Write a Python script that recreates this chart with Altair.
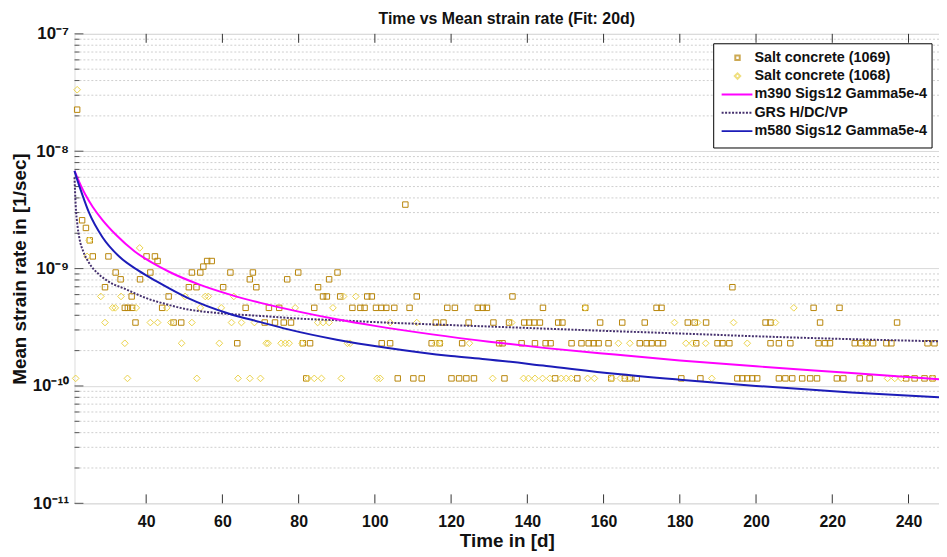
import altair as alt
import pandas as pd

# ---------------- data ----------------
TITLE = "Time vs Mean strain rate (Fit: 20d)"
X_TITLE = "Time in [d]"
Y_TITLE = "Mean strain rate in [1/sec]"
SERIES = ["Salt concrete (1069)", "Salt concrete (1068)",
          "m390 Sigs12 Gamma5e-4", "GRS H/DC/VP", "m580 Sigs12 Gamma5e-4"]

X_TICKS = [40, 60, 80, 100, 120, 140, 160, 180, 200, 220, 240]
Y_MAJOR = [1e-11, 1e-10, 1e-9, 1e-8, 1e-7]
Y_MINOR = [m * d for d in [1e-11, 1e-10, 1e-9, 1e-8] for m in range(2, 10)]

# measured rates sit on discrete levels (rate -> list of days)
SQ_1069 = {
    1.16e-10: [82, 106, 110.1, 112.3, 120.1, 122.1, 124, 126, 134, 147.3, 153.1, 162, 165.6,
               166.9, 168.7, 180.4, 185.4, 195.1, 196.4, 197.7, 199, 200.3, 206, 207.7, 209.5,
               212.1, 214.2, 216, 221.2, 222.9, 227.2, 229.8, 239.4, 241.6, 244.2, 246.3],
    2.31e-10: [63.9, 81.1, 83, 101.8, 104, 114.9, 117, 122.9, 132.6, 133.5, 138.5, 142, 144.8,
               146.1, 151.6, 154.2, 156.1, 157.4, 158.7, 161.3, 169.5, 171.3, 172.6, 174.3,
               175.6, 184.3, 189.9, 191.2, 193, 203.8, 206, 209, 216.4, 218.1, 219.4, 225.9,
               227.5, 229.1, 230.7, 234.2, 235.5, 245, 246.8],
    3.47e-10: [37.2, 47.2, 49.2, 71.1, 73.8, 76.1, 78, 116, 118, 124.6, 131.1, 135.2, 139.2,
               140.5, 141.8, 143.3, 148.1, 149.2, 159.1, 164.9, 170.8, 182.1, 183.9, 186.9,
               202.5, 203.8, 216.8, 237],
    4.63e-10: [34.4, 35.2, 36.3, 44.2, 66.1, 72.2, 74.9, 84.1, 94.1, 96.2, 97.3, 100.3, 101.7,
               103, 105.1, 109.1, 119, 121, 127, 128.3, 129.4, 144.1, 155.2, 173.9, 175.2,
               215.1, 221.9],
    5.79e-10: [36.2, 45.9, 86.4, 87.4, 90.9, 98, 99.2, 111, 136.1],
    6.94e-10: [29.2, 51.2, 53.2, 60.2, 68.9, 85.1, 193.8],
    8.10e-10: [33.3, 38.4, 67.2, 77, 88],
    9.26e-10: [32, 41.1, 52, 54.2, 62.1, 68, 79.9, 90.2],
    1.04e-9: [55],
    1.16e-9: [43, 56, 57.2],
    1.27e-9: [26, 30.1, 40.1, 42.3],
    1.74e-9: [25.2],
    2.22e-9: [24.2],
    2.58e-9: [23.2],
    3.51e-9: [108],
    2.26e-8: [21.9],
}
DM_1068 = {
    1.16e-10: [21.5, 35.1, 53.3, 64.1, 67.2, 70, 82.4, 84.1, 86, 91.2, 100.6, 101.4, 130.9,
               139, 140.3, 142, 144, 145.9, 148.9, 150.2, 151.5, 155.8, 157.6, 162.2, 164.4,
               166.6, 188.4, 234.5, 236.4, 238.1, 246.3],
    2.31e-10: [34.4, 49.3, 59.2, 71.5, 72, 75.4, 76.5, 77.5, 80.9, 92.8, 93.5, 116, 117,
               124.8, 163.9, 166.9, 181.6, 183.3, 186.8, 197.7, 228.7],
    3.47e-10: [29.2, 41.1, 43, 46.5, 52, 62.4, 65, 68.4, 85, 86.4, 88, 104, 111, 135.9,
               178.6, 184.7, 194.1, 205.1],
    4.63e-10: [31.2, 31.9, 37.4, 45.4, 54.2, 59.7, 79.1, 89, 155.2, 209.9],
    5.79e-10: [28.1, 33.4, 50.2, 55.5, 56.3, 63, 91.8, 95],
    1.27e-9: [24.5],
    1.50e-9: [38.3],
    1.74e-9: [25.0],
    3.34e-8: [21.9],
}

MAG_DAYS = [21.2, 22, 23, 24, 26, 28.5, 32, 37, 42, 46, 54, 62, 70, 80, 90, 100, 115, 130,
            145, 163, 180, 200, 225, 248]
MAG_RATE = [6.8e-9, 5.9e-9, 5.0e-9, 4.3e-9, 3.35e-9, 2.6e-9, 1.95e-9, 1.4e-9, 1.1e-9, 9.4e-10,
            7.3e-10, 6.0e-10, 5.1e-10, 4.3e-10, 3.7e-10, 3.25e-10, 2.75e-10, 2.38e-10, 2.1e-10,
            1.85e-10, 1.65e-10, 1.47e-10, 1.29e-10, 1.14e-10]
BLUE_DAYS = [21.2, 22, 23, 25.1, 28.5, 33, 38, 43, 51, 62, 70, 77, 90, 103, 120, 129, 145, 163,
             180, 200, 225, 248]
BLUE_RATE = [6.8e-9, 5.6e-9, 4.5e-9, 2.95e-9, 1.86e-9, 1.26e-9, 9.6e-10, 7.7e-10, 5.6e-10,
             4.1e-10, 3.5e-10, 3.05e-10, 2.48e-10, 2.12e-10, 1.8e-10, 1.69e-10, 1.48e-10,
             1.27e-10, 1.13e-10, 1.0e-10, 8.8e-11, 8.0e-11]
GRS_DAYS = [21.2, 21.5, 22, 22.5, 23.5, 25, 27.5, 30, 35, 40, 45, 50, 60, 70, 80, 90, 100, 120,
            140, 160, 180, 200, 220, 248]
GRS_RATE = [6.0e-9, 3.5e-9, 2.3e-9, 1.8e-9, 1.4e-9, 1.12e-9, 9.0e-10, 7.8e-10, 6.6e-10, 5.6e-10,
            5.0e-10, 4.55e-10, 4.15e-10, 3.95e-10, 3.75e-10, 3.63e-10, 3.5e-10, 3.3e-10, 3.12e-10,
            2.95e-10, 2.8e-10, 2.65e-10, 2.53e-10, 2.4e-10]

# ---------------- styling ----------------
FONT = "Liberation Sans"
C_SQ = "#B8860B"
C_DM = "#EAD24A"
C_MAG = "#FF00FF"
C_GRS = "#45306E"
C_BLUE = "#1C1CB8"
W, H = 871, 473


def levels_to_df(levels):
    rows = []
    for rate, days in levels.items():
        for d in days:
            rows.append({"day": d, "rate": rate})
    return pd.DataFrame(rows)


sq_df = levels_to_df(SQ_1069)
dm_df = levels_to_df(DM_1068)
mag_df = pd.DataFrame({"day": MAG_DAYS, "rate": MAG_RATE})
blue_df = pd.DataFrame({"day": BLUE_DAYS, "rate": BLUE_RATE})
grs_df = pd.DataFrame({"day": GRS_DAYS, "rate": GRS_RATE})
minor_df = pd.DataFrame({"rate": Y_MINOR})
major_df = pd.DataFrame({"rate": Y_MAJOR})
xt_df = pd.DataFrame({"day": X_TICKS})
one = pd.DataFrame({"a": [0]})

xscale = alt.Scale(domain=[21.2, 248], nice=False, zero=False)
yscale = alt.Scale(type="log", domain=[1e-11, 1e-7], nice=False)

label_expr = ("datum.value < 5e-11 ? '10\u207b\u00b9\u00b9' : datum.value < 5e-10 ? '10\u207b\u00b9\u2070' : "
              "datum.value < 5e-9 ? '10\u207b\u2079' : datum.value < 5e-8 ? '10\u207b\u2078' : '10\u207b\u2077'")

X_AX = alt.Axis(values=X_TICKS, title=X_TITLE, grid=False, ticks=False, domain=False,
                labelFontSize=16, labelFontWeight="bold", labelPadding=10, labelColor="#111",
                titleFontSize=19, titleFontWeight="bold", titlePadding=3, titleColor="#111",
                labelFont=FONT, titleFont=FONT)
Y_AX = alt.Axis(values=Y_MAJOR, title=Y_TITLE, grid=True, gridColor="#d9d9d9", gridWidth=1,
                ticks=False, domain=False, labelExpr=label_expr,
                labelFontSize=17, labelFontWeight="bold", labelPadding=6, labelColor="#111",
                titleFontSize=19, titleFontWeight="bold", titlePadding=3, titleColor="#111",
                labelFont=FONT, titleFont=FONT)

X = lambda: alt.X("day:Q", scale=xscale, axis=X_AX)
Y = lambda: alt.Y("rate:Q", scale=yscale, axis=Y_AX)

minor_grid = alt.Chart(minor_df).mark_rule(color="#cfcfcf", strokeDash=[2, 2], strokeWidth=1).encode(y=Y())
minor_ticks = alt.Chart(minor_df).mark_rule(color="#555", strokeWidth=1).encode(
    y=Y(), x=alt.value(0), x2=alt.value(5))
major_ticks = alt.Chart(major_df).mark_rule(color="#555", strokeWidth=1).encode(
    y=Y(), x=alt.value(0), x2=alt.value(9))
bot_ticks = alt.Chart(xt_df).mark_rule(color="#333", strokeWidth=1).encode(
    x=X(), y=alt.value(H), y2=alt.value(H - 9))
top_ticks = alt.Chart(xt_df).mark_rule(color="#333", strokeWidth=1).encode(
    x=X(), y=alt.value(0), y2=alt.value(9))

squares = alt.Chart(sq_df).mark_point(shape="square", filled=False, size=30, strokeWidth=1,
                                      color=C_SQ, opacity=1).encode(x=X(), y=Y())
diamonds = alt.Chart(dm_df).mark_point(shape="diamond", filled=False, size=45, strokeWidth=1,
                                       color=C_DM, opacity=1).encode(x=X(), y=Y())

mag = alt.Chart(mag_df).mark_line(color=C_MAG, strokeWidth=2, interpolate="monotone").encode(x=X(), y=Y())
grs = alt.Chart(grs_df).mark_line(color=C_GRS, strokeWidth=2, strokeDash=[2, 1.5],
                                  interpolate="monotone").encode(x=X(), y=Y())
blue = alt.Chart(blue_df).mark_line(color=C_BLUE, strokeWidth=2, interpolate="monotone").encode(x=X(), y=Y())

# ---------------- legend ----------------
LX0, LX1, LY0, LY1 = 644, 864, 10, 115
ROWS = [24, 42.5, 61, 79.5, 98]
leg = [alt.Chart(one).mark_rect(fill="white", stroke="#000", strokeWidth=1).encode(
    x=alt.value(LX0), x2=alt.value(LX1), y=alt.value(LY0), y2=alt.value(LY1))]
leg.append(alt.Chart(one).mark_point(shape="square", filled=False, size=20, color=C_SQ).encode(
    x=alt.value(668), y=alt.value(ROWS[0])))
leg.append(alt.Chart(one).mark_point(shape="diamond", filled=False, size=30, color=C_DM).encode(
    x=alt.value(668), y=alt.value(ROWS[1])))
for row, col, dash in [(2, C_MAG, [1, 0]), (3, C_GRS, [2, 1.5]), (4, C_BLUE, [1, 0])]:
    leg.append(alt.Chart(one).mark_rule(color=col, strokeWidth=2, strokeDash=dash).encode(
        x=alt.value(652), x2=alt.value(683), y=alt.value(ROWS[row])))
for i, name in enumerate(SERIES):
    leg.append(alt.Chart(one).mark_text(align="left", baseline="middle", fontSize=14.5,
                                        fontWeight="bold", font=FONT, color="#111").encode(
        x=alt.value(685), y=alt.value(ROWS[i]), text=alt.value(name)))

chart = alt.layer(minor_grid, minor_ticks, major_ticks, bot_ticks, top_ticks,
                  squares, diamonds, grs, mag, blue, *leg).properties(
    width=W, height=H,
    title=alt.TitleParams(TITLE, fontSize=16, fontWeight="bold", font=FONT, color="#111",
                          anchor="middle", frame="group", offset=-2),
    autosize=alt.AutoSizeParams(type="none"),
    padding={"left": 67, "top": 24, "right": 0, "bottom": 47},
).configure_view(stroke="#6a6a6a", strokeWidth=1).configure(background="white")

chart.save("out.html", embed_options={"renderer": "svg", "actions": False})
